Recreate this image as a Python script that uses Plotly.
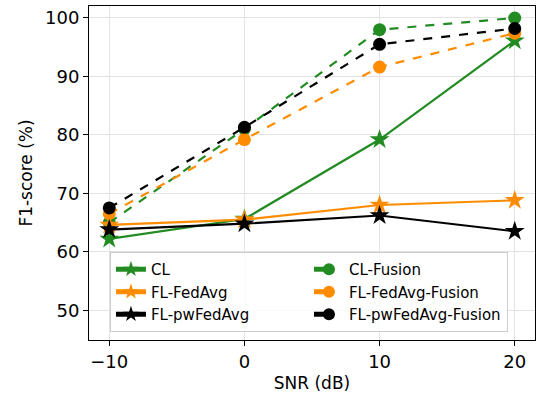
import plotly.graph_objects as go

snr = [-10, 0, 10, 20]
cl = [62.2, 65.6, 79.2, 96.1]
fl_fedavg = [64.6, 65.5, 68.0, 68.8]
fl_pwfedavg = [63.8, 64.8, 66.2, 63.5]
cl_fusion = [65.0, 81.0, 98.0, 100.0]
fl_fedavg_fusion = [66.5, 79.2, 91.6, 97.4]
fl_pwfedavg_fusion = [67.5, 81.3, 95.5, 98.2]

GREEN = "#228B22"
ORANGE = "#FF8C00"
BLACK = "#000000"

series = [
    ("CL", cl, GREEN, "solid", "star"),
    ("CL-Fusion", cl_fusion, GREEN, "dash", "circle"),
    ("FL-FedAvg", fl_fedavg, ORANGE, "solid", "star"),
    ("FL-FedAvg-Fusion", fl_fedavg_fusion, ORANGE, "dash", "circle"),
    ("FL-pwFedAvg", fl_pwfedavg, BLACK, "solid", "star"),
    ("FL-pwFedAvg-Fusion", fl_pwfedavg_fusion, BLACK, "dash", "circle"),
]

fig = go.Figure()
for name, vals, color, dash, sym in series:
    fig.add_trace(go.Scatter(
        x=snr, y=vals, name=name, mode="lines+markers",
        line=dict(color=color, width=2.2, dash=dash),
        marker=dict(symbol=sym, size=15 if sym == "star" else 13, color=color, line=dict(width=0)),
    ))

axis_common = dict(
    showline=True, linecolor="black", linewidth=1, mirror=True,
    ticks="outside", ticklen=5, tickcolor="black",
    showgrid=True, gridcolor="#e3e3e3", gridwidth=1, zeroline=False,
    tickfont=dict(family="DejaVu Sans", size=18, color="black"),
    title_font=dict(family="DejaVu Sans", size=17, color="black"),
)
fig.update_xaxes(range=[-11.5, 21.5], tickvals=[-10, 0, 10, 20], ticktext=["\u221210", "0", "10", "20"],
                 title_text="SNR (dB)", title_standoff=6, **axis_common)
fig.update_yaxes(range=[44.9, 102.05], tickvals=[50, 60, 70, 80, 90, 100],
                 title_text="F1-score (%)", title_standoff=8, **axis_common)

fig.update_layout(
    width=536, height=399,
    margin=dict(l=89, r=1, t=6, b=59),
    plot_bgcolor="white", paper_bgcolor="white",
    font=dict(family="DejaVu Sans", size=15, color="black"),
    legend=dict(
        orientation="h", x=0.047, y=0.024, xanchor="left", yanchor="bottom",
        entrywidth=153, entrywidthmode="pixels",
        bgcolor="rgba(255,255,255,0.8)", bordercolor="#cccccc", borderwidth=1,
        font=dict(family="DejaVu Sans", size=15, color="black"),
        tracegroupgap=0, itemsizing="constant",
    ),
)

fig.write_html("out.html")
